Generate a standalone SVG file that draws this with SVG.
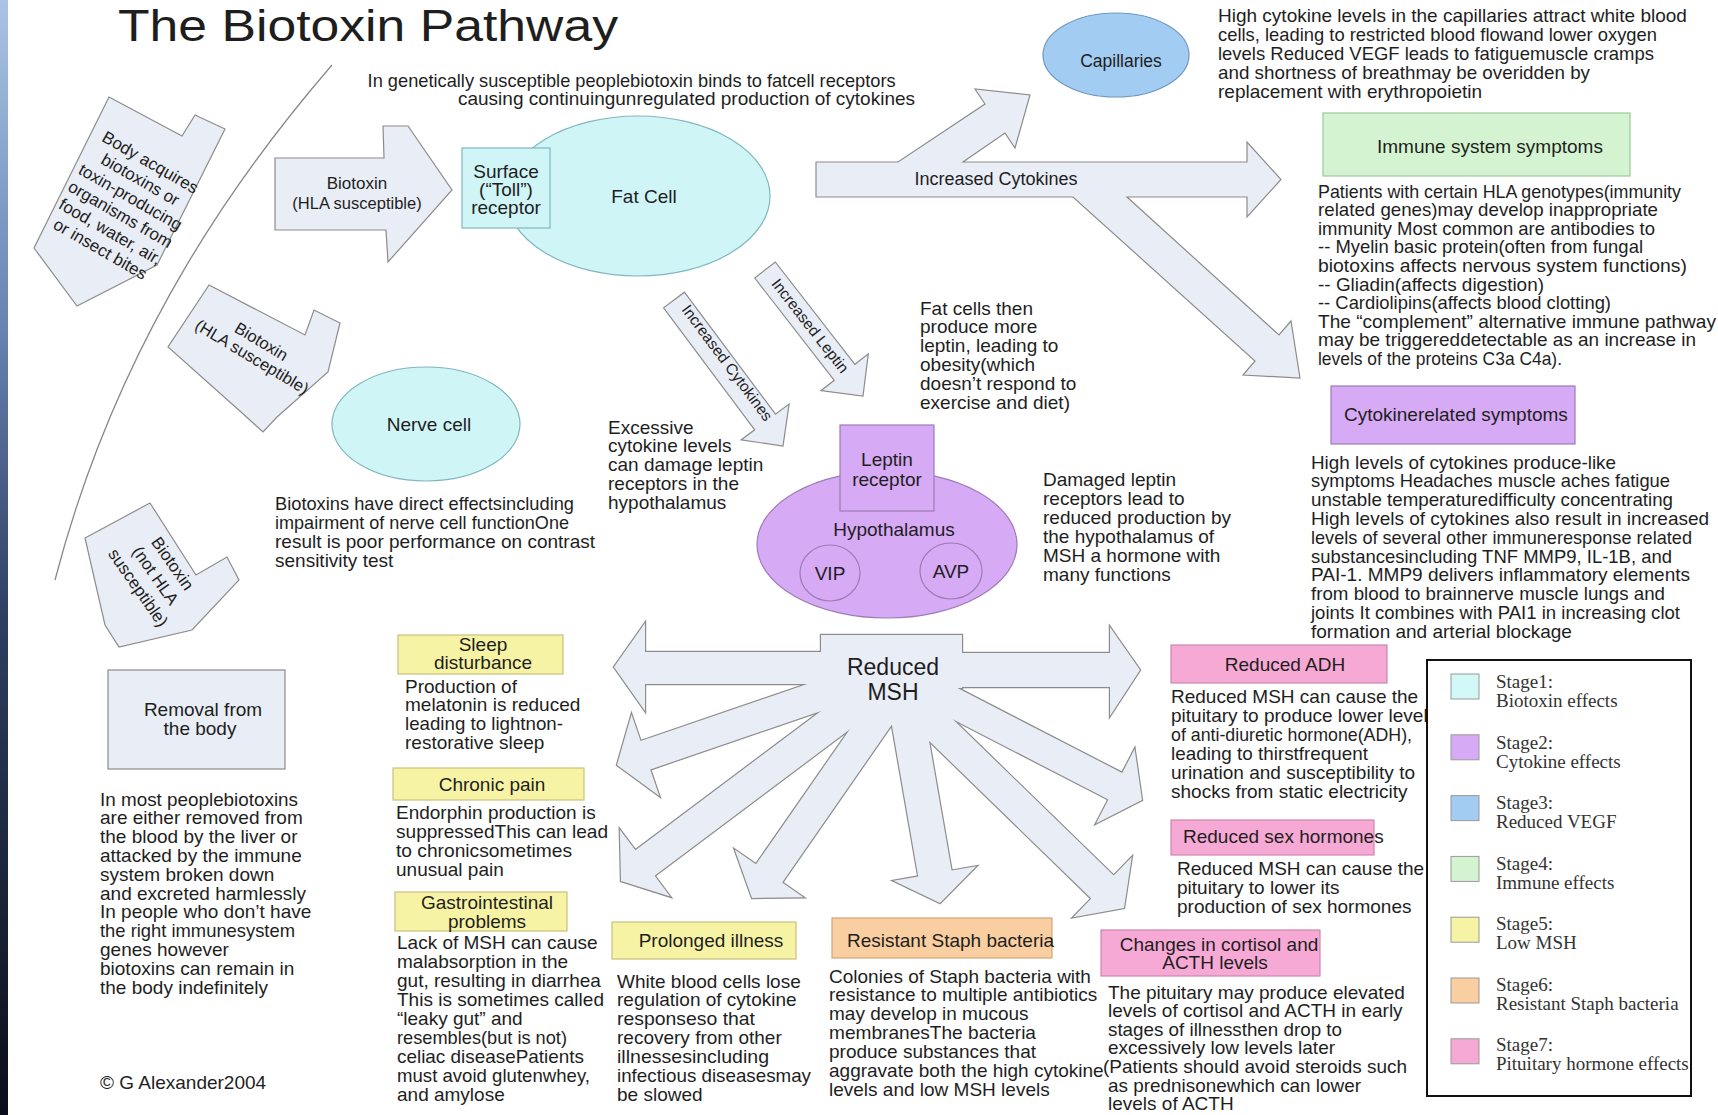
<svg xmlns="http://www.w3.org/2000/svg" xmlns:xlink="http://www.w3.org/1999/xlink" width="1718" height="1115" viewBox="0 0 1718 1115">
<defs>
<linearGradient id="strip" x1="0" y1="0" x2="0" y2="1">
<stop offset="0" stop-color="#aac3e5"/>
<stop offset="0.3" stop-color="#6781b0"/>
<stop offset="0.55" stop-color="#2e3f62"/>
<stop offset="1" stop-color="#0b0e18"/>
</linearGradient>
<g id="msh">
<rect x="821" y="635" width="141" height="53"/>
<polygon points="860,652 645,652 645,623 614,667 645,711 645,684 860,684"/>
<polygon points="920,653 1110,653 1110,627 1140,670 1110,716 1110,687 920,687"/>
<polygon points="875.2,660.8 640.6,741.1 631.5,714.6 617,765 659.3,796 650.2,769.5 884.8,689.2"/>
<polygon points="875.4,670.2 635.4,850.2 619.8,829.4 621,881 670.2,896.6 654.6,875.8 894.6,695.8"/>
<polygon points="886.9,675.9 756,864.3 734.7,849.5 752,898 803.5,897.3 782.2,882.5 913.1,694.1"/>
<polygon points="884.8,684.3 918.2,876.4 893.5,880.7 940,903 976.3,866.3 951.6,870.6 918.2,678.5"/>
<polygon points="889.1,702 1091.3,898.6 1073.2,917.2 1124,908 1131.8,857 1113.7,875.6 911.5,679"/>
<polygon points="883.1,683.3 1108.4,799.5 1096,823.5 1142,800 1134.6,748.9 1122.2,772.9 896.9,656.7"/>
</g>
</defs>
<style>
.t{font-family:"Liberation Sans",Arial,sans-serif;font-size:19px;fill:#1e1e1e}
.c{text-anchor:middle}
.arr{fill:#e9edf5;stroke:#8c8c8c;stroke-width:1.2}
.cyan{fill:#cff5f7;stroke:#80b6be;stroke-width:1.2}
.blue{fill:#a3ccf2;stroke:#6f98c2;stroke-width:1.2}
.purple{fill:#d7aaf5;stroke:#9c7cb6;stroke-width:1.2}
.green{fill:#d4f4d1;stroke:#9cc999;stroke-width:1.2}
.yellow{fill:#f7f3a4;stroke:#c9c27c;stroke-width:1.2}
.peach{fill:#f9cea0;stroke:#d4a676;stroke-width:1.2}
.pink{fill:#f6a9d4;stroke:#cc87ae;stroke-width:1.2}
.leg{font-family:"Liberation Serif","Times New Roman",serif;font-size:19px;fill:#333}
.sw{stroke:#999;stroke-width:1}
</style>
<rect x="0" y="0" width="1718" height="1115" fill="#ffffff"/>
<rect x="0" y="0" width="8" height="1115" fill="url(#strip)"/>
<path d="M332,65 C250,160 120,330 55,580" fill="none" stroke="#888" stroke-width="1.3"/>
<text class="t" x="118" y="41" style="font-size:44px" textLength="500" lengthAdjust="spacingAndGlyphs">The Biotoxin Pathway</text>

<g id="connectors">
<g id="arrow-body">
<polygon class="arr" points="109,97 182,136 195,115 225,129 157,265 77,306 34,248"/>
<text class="t c" style="font-size:17px" transform="translate(150,163) rotate(30)"><tspan x="0" y="5">Body acquires</tspan><tspan x="0" y="25">biotoxins or</tspan><tspan x="0" y="45">toxin-producing</tspan><tspan x="0" y="65">organisms from</tspan><tspan x="0" y="85">food, water, air,</tspan><tspan x="0" y="105">or insect bites</tspan></text>
</g>
<g id="arrow-biotoxin-hla">
<polygon class="arr" points="275,158 384,158 383,126 408,126 452,190 388,262 386,230 275,230"/>
<text class="t c" style="font-size:17px" x="357" y="189">Biotoxin</text>
<text class="t c" style="font-size:16.5px" x="357" y="209">(HLA susceptible)</text>
</g>
<g id="arrow-biotoxin-hla-2">
<polygon class="arr" points="209,285 305,335 314,310 340,323 328,372 277,417 263,432 241,412 168,347"/>
<text class="t c" style="font-size:16.5px" transform="translate(261,342) rotate(31)"><tspan x="0" y="5">Biotoxin</tspan><tspan x="0" y="23">(HLA susceptible)</tspan></text>
</g>
<g id="arrow-biotoxin-not-hla">
<polygon class="arr" points="150,503 196,575 227,557 239,580 192,630 119,647 105,625 85,538"/>
<text class="t c" style="font-size:17px" transform="translate(172,564) rotate(55)"><tspan x="0" y="5">Biotoxin</tspan><tspan x="0" y="26">(not HLA</tspan><tspan x="0" y="47">susceptible)</tspan></text>
</g>
<g id="arrow-increased-cytokines-main">
<polygon class="arr" points="816,162 898,162 985,104 975,89 1030,95 1015,148 1005,133 963,162 1247,162 1247,142 1281,179.5 1247,217 1247,197 1127,197 1279,335 1291,321 1300,378 1243,375 1255,361 1073,197 816,197"/>
<text class="t c" style="font-size:18px" x="996" y="185">Increased Cytokines</text>
</g>
<g id="arrow-increased-cytokines-small">
<polygon class="arr" points="663.6,307.8 754.7,429.8 741.1,439.9 783,446 789.1,404.1 775.5,414.2 684.4,292.2"/>
<text class="t c" style="font-size:15.5px" transform="translate(727,363) rotate(53.3)"><tspan x="0" y="5">Increased Cytokines</tspan></text>
</g>
<g id="arrow-increased-leptin">
<polygon class="arr" points="754.7,278 834.3,380.3 820.9,390.7 863,396 868.3,353.9 854.9,364.3 775.3,262"/>
<text class="t c" style="font-size:15.5px" transform="translate(810,326) rotate(52)"><tspan x="0" y="5">Increased Leptin</tspan></text>
</g>
<g id="arrow-reduced-msh">
<use xlink:href="#msh" fill="none" stroke="#8c8c8c" stroke-width="2.4"/>
<use xlink:href="#msh" fill="#e9edf5" stroke="none"/>
<text class="t c" style="font-size:23px" x="893" y="675">Reduced</text>
<text class="t c" style="font-size:23px" x="893" y="700">MSH</text>
</g>
</g>

<g id="subtitle">
<text class="t" x="367.6" y="87" textLength="528" lengthAdjust="spacingAndGlyphs">In genetically susceptible peoplebiotoxin binds to fatcell receptors</text>
<text class="t" x="458" y="105" textLength="457" lengthAdjust="spacingAndGlyphs">causing continuingunregulated production of cytokines</text>
</g>

<g id="fat-cell">
<ellipse class="cyan" cx="638" cy="196" rx="132" ry="80"/>
<text class="t c" x="644" y="203">Fat Cell</text>
</g>
<g id="toll-receptor">
<rect class="cyan" x="462" y="148" width="88" height="80"/>
<text class="t c" x="506" y="178">Surface</text>
<text class="t c" x="506" y="196">(“Toll”)</text>
<text class="t c" x="506" y="214">receptor</text>
</g>

<g id="capillaries">
<ellipse class="blue" cx="1116" cy="55" rx="73" ry="42"/>
<text class="t c" style="font-size:17.5px" x="1121" y="67">Capillaries</text>
</g>
<g id="capillaries-text">
<text class="t" x="1218" y="21.5">High cytokine levels in the capillaries attract white blood</text>
<text class="t" x="1218" y="40.5" textLength="439" lengthAdjust="spacingAndGlyphs">cells, leading to restricted blood flowand lower oxygen</text>
<text class="t" x="1218" y="59.5" textLength="436" lengthAdjust="spacingAndGlyphs">levels Reduced VEGF leads to fatiguemuscle cramps</text>
<text class="t" x="1218" y="78.5" textLength="372" lengthAdjust="spacingAndGlyphs">and shortness of breathmay be overidden by</text>
<text class="t" x="1218" y="97.5">replacement with erythropoietin</text>
</g>

<g id="immune-symptoms">
<rect class="green" x="1323" y="113" width="307" height="63"/>
<text class="t" x="1377" y="153">Immune system symptoms</text>
</g>
<g id="immune-text">
<text class="t" x="1318" y="197.5" textLength="363" lengthAdjust="spacingAndGlyphs">Patients with certain HLA genotypes(immunity</text>
<text class="t" x="1318" y="216.1" textLength="340" lengthAdjust="spacingAndGlyphs">related genes)may develop inappropriate</text>
<text class="t" x="1318" y="234.7" textLength="337" lengthAdjust="spacingAndGlyphs">immunity Most common are antibodies to</text>
<text class="t" x="1318" y="253.3" textLength="325" lengthAdjust="spacingAndGlyphs">-- Myelin basic protein(often from fungal</text>
<text class="t" x="1318" y="271.9" textLength="369" lengthAdjust="spacingAndGlyphs">biotoxins affects nervous system functions)</text>
<text class="t" x="1318" y="290.5" textLength="226" lengthAdjust="spacingAndGlyphs">-- Gliadin(affects digestion)</text>
<text class="t" x="1318" y="309.1" textLength="293" lengthAdjust="spacingAndGlyphs">-- Cardiolipins(affects blood clotting)</text>
<text class="t" x="1318" y="327.7" textLength="398" lengthAdjust="spacingAndGlyphs">The “complement” alternative immune pathway</text>
<text class="t" x="1318" y="346.3" textLength="378" lengthAdjust="spacingAndGlyphs">may be triggereddetectable as an increase in</text>
<text class="t" x="1318" y="364.9" textLength="244" lengthAdjust="spacingAndGlyphs">levels of the proteins C3a C4a).</text>
</g>

<g id="cytokine-symptoms">
<rect class="purple" x="1331" y="386" width="244" height="58"/>
<text class="t" x="1344" y="421" fill="#2a1838">Cytokinerelated symptoms</text>
</g>
<g id="cytokine-text">
<text class="t" x="1311" y="468.5" textLength="305" lengthAdjust="spacingAndGlyphs">High levels of cytokines produce-like</text>
<text class="t" x="1311" y="487.3" textLength="359" lengthAdjust="spacingAndGlyphs">symptoms Headaches muscle aches fatigue</text>
<text class="t" x="1311" y="506.1" textLength="362" lengthAdjust="spacingAndGlyphs">unstable temperaturedifficulty concentrating</text>
<text class="t" x="1311" y="524.9">High levels of cytokines also result in increased</text>
<text class="t" x="1311" y="543.7" textLength="381" lengthAdjust="spacingAndGlyphs">levels of several other immuneresponse related</text>
<text class="t" x="1311" y="562.5" textLength="361" lengthAdjust="spacingAndGlyphs">substancesincluding TNF MMP9, IL-1B, and</text>
<text class="t" x="1311" y="581.3" textLength="379" lengthAdjust="spacingAndGlyphs">PAI-1. MMP9 delivers inflammatory elements</text>
<text class="t" x="1311" y="600.1" textLength="354" lengthAdjust="spacingAndGlyphs">from blood to brainnerve muscle lungs and</text>
<text class="t" x="1311" y="618.9" textLength="369" lengthAdjust="spacingAndGlyphs">joints It combines with PAI1 in increasing clot</text>
<text class="t" x="1311" y="637.7">formation and arterial blockage</text>
</g>

<g id="fat-cells-text">
<text class="t" x="920" y="314.5">Fat cells then</text>
<text class="t" x="920" y="333.3">produce more</text>
<text class="t" x="920" y="352.1">leptin, leading to</text>
<text class="t" x="920" y="370.9">obesity(which</text>
<text class="t" x="920" y="389.7">doesn’t respond to</text>
<text class="t" x="920" y="408.5">exercise and diet)</text>
</g>

<g id="nerve-cell">
<ellipse class="cyan" cx="426" cy="424" rx="94" ry="57"/>
<text class="t c" x="429" y="431">Nerve cell</text>
</g>
<g id="nerve-text">
<text class="t" x="275" y="509.5" textLength="299" lengthAdjust="spacingAndGlyphs">Biotoxins have direct effectsincluding</text>
<text class="t" x="275" y="528.7" textLength="294" lengthAdjust="spacingAndGlyphs">impairment of nerve cell functionOne</text>
<text class="t" x="275" y="547.9">result is poor performance on contrast</text>
<text class="t" x="275" y="567.1">sensitivity test</text>
</g>

<g id="excessive-text">
<text class="t" x="608" y="433.5">Excessive</text>
<text class="t" x="608" y="452.3">cytokine levels</text>
<text class="t" x="608" y="471.1">can damage leptin</text>
<text class="t" x="608" y="489.9">receptors in the</text>
<text class="t" x="608" y="508.7">hypothalamus</text>
</g>

<g id="hypothalamus">
<ellipse class="purple" cx="887" cy="544.5" rx="130" ry="73.5"/>
<rect class="purple" x="840" y="425" width="94" height="86"/>
<text class="t c" x="887" y="466">Leptin</text>
<text class="t c" x="887" y="486">receptor</text>
<text class="t c" x="894" y="536">Hypothalamus</text>
<ellipse class="purple" cx="830" cy="573" rx="30" ry="28"/>
<text class="t c" x="830" y="580">VIP</text>
<ellipse class="purple" cx="951" cy="571" rx="31" ry="28"/>
<text class="t c" x="951" y="578">AVP</text>
</g>

<g id="damaged-text">
<text class="t" x="1043" y="485.5">Damaged leptin</text>
<text class="t" x="1043" y="504.5">receptors lead to</text>
<text class="t" x="1043" y="523.5">reduced production by</text>
<text class="t" x="1043" y="542.5">the hypothalamus of</text>
<text class="t" x="1043" y="561.5">MSH a hormone with</text>
<text class="t" x="1043" y="580.5">many functions</text>
</g>

<g id="removal">
<rect class="arr" x="108" y="670" width="177" height="99"/>
<text class="t c" x="203" y="716">Removal from</text>
<text class="t c" x="200" y="735">the body</text>
</g>
<g id="removal-text">
<text class="t" x="100" y="805.5" textLength="198" lengthAdjust="spacingAndGlyphs">In most peoplebiotoxins</text>
<text class="t" x="100" y="824.3">are either removed from</text>
<text class="t" x="100" y="843.1">the blood by the liver or</text>
<text class="t" x="100" y="861.9">attacked by the immune</text>
<text class="t" x="100" y="880.7">system broken down</text>
<text class="t" x="100" y="899.5">and excreted harmlessly</text>
<text class="t" x="100" y="918.3">In people who don’t have</text>
<text class="t" x="100" y="937.1" textLength="195" lengthAdjust="spacingAndGlyphs">the right immunesystem</text>
<text class="t" x="100" y="955.9">genes however</text>
<text class="t" x="100" y="974.7">biotoxins can remain in</text>
<text class="t" x="100" y="993.5">the body indefinitely</text>
<text class="t" x="100" y="1089">© G Alexander2004</text>
</g>

<g id="sleep">
<rect class="yellow" x="398" y="635" width="165" height="39"/>
<text class="t c" x="483" y="651">Sleep</text>
<text class="t c" x="483" y="669">disturbance</text>
</g>
<g id="sleep-text">
<text class="t" x="405" y="692.5">Production of</text>
<text class="t" x="405" y="711.3">melatonin is reduced</text>
<text class="t" x="405" y="730.1" textLength="158" lengthAdjust="spacingAndGlyphs">leading to lightnon-</text>
<text class="t" x="405" y="748.9">restorative sleep</text>
</g>

<g id="chronic-pain">
<rect class="yellow" x="393" y="768" width="191" height="32"/>
<text class="t c" x="492" y="791">Chronic pain</text>
</g>
<g id="chronic-text">
<text class="t" x="396" y="818.5">Endorphin production is</text>
<text class="t" x="396" y="837.7" textLength="212" lengthAdjust="spacingAndGlyphs">suppressedThis can lead</text>
<text class="t" x="396" y="856.9" textLength="176" lengthAdjust="spacingAndGlyphs">to chronicsometimes</text>
<text class="t" x="396" y="876.1">unusual pain</text>
</g>

<g id="gastro">
<rect class="yellow" x="395" y="892" width="172" height="39"/>
<text class="t c" x="487" y="909">Gastrointestinal</text>
<text class="t c" x="487" y="928">problems</text>
</g>
<g id="gastro-text">
<text class="t" x="397" y="948.5">Lack of MSH can cause</text>
<text class="t" x="397" y="967.5">malabsorption in  the</text>
<text class="t" x="397" y="986.5">gut, resulting in diarrhea</text>
<text class="t" x="397" y="1005.5">This is sometimes called</text>
<text class="t" x="397" y="1024.5">“leaky gut” and</text>
<text class="t" x="397" y="1043.5" textLength="170" lengthAdjust="spacingAndGlyphs">resembles(but is not)</text>
<text class="t" x="397" y="1062.5" textLength="187" lengthAdjust="spacingAndGlyphs">celiac diseasePatients</text>
<text class="t" x="397" y="1081.5" textLength="193" lengthAdjust="spacingAndGlyphs">must avoid glutenwhey,</text>
<text class="t" x="397" y="1100.5">and amylose</text>
</g>

<g id="prolonged">
<rect class="yellow" x="612" y="922" width="184" height="37"/>
<text class="t c" x="711" y="947">Prolonged illness</text>
</g>
<g id="prolonged-text">
<text class="t" x="617" y="987.5">White blood cells lose</text>
<text class="t" x="617" y="1006.4">regulation of cytokine</text>
<text class="t" x="617" y="1025.3" textLength="138" lengthAdjust="spacingAndGlyphs">responseso that</text>
<text class="t" x="617" y="1044.2">recovery from other</text>
<text class="t" x="617" y="1063.1" textLength="152" lengthAdjust="spacingAndGlyphs">illnessesincluding</text>
<text class="t" x="617" y="1082" textLength="194" lengthAdjust="spacingAndGlyphs">infectious diseasesmay</text>
<text class="t" x="617" y="1100.9">be slowed</text>
</g>

<g id="staph">
<rect class="peach" x="832" y="918" width="220" height="40"/>
<text class="t" x="847" y="947">Resistant Staph bacteria</text>
</g>
<g id="staph-text">
<text class="t" x="829" y="982.5">Colonies of Staph bacteria with</text>
<text class="t" x="829" y="1001.4">resistance to multiple antibiotics</text>
<text class="t" x="829" y="1020.3">may develop in mucous</text>
<text class="t" x="829" y="1039.2" textLength="207" lengthAdjust="spacingAndGlyphs">membranesThe bacteria</text>
<text class="t" x="829" y="1058.1">produce substances that</text>
<text class="t" x="829" y="1077">aggravate both the high cytokine</text>
<text class="t" x="829" y="1095.9">levels and low MSH levels</text>
</g>

<g id="cortisol">
<rect class="pink" x="1101" y="930" width="219" height="46"/>
<text class="t c" x="1219" y="951">Changes in cortisol and</text>
<text class="t c" x="1215" y="969">ACTH levels</text>
</g>
<g id="cortisol-text">
<text class="t" x="1108" y="998.5">The pituitary may produce elevated</text>
<text class="t" x="1108" y="1017.1">levels of cortisol and ACTH in early</text>
<text class="t" x="1108" y="1035.7" textLength="234" lengthAdjust="spacingAndGlyphs">stages of illnessthen drop to</text>
<text class="t" x="1108" y="1054.3">excessively low levels later</text>
<text class="t" x="1103" y="1072.9">(Patients should avoid steroids such</text>
<text class="t" x="1108" y="1091.5" textLength="253" lengthAdjust="spacingAndGlyphs">as prednisonewhich can lower</text>
<text class="t" x="1108" y="1110">levels of ACTH</text>
</g>

<g id="adh">
<rect class="pink" x="1171" y="645" width="216" height="38"/>
<text class="t c" x="1285" y="671">Reduced ADH</text>
</g>
<g id="adh-text">
<text class="t" x="1171" y="702.5">Reduced MSH can cause the</text>
<text class="t" x="1171" y="721.5">pituitary to produce lower levels</text>
<text class="t" x="1171" y="740.5" textLength="241" lengthAdjust="spacingAndGlyphs">of anti-diuretic hormone(ADH),</text>
<text class="t" x="1171" y="759.5" textLength="197" lengthAdjust="spacingAndGlyphs">leading to thirstfrequent</text>
<text class="t" x="1171" y="778.5">urination and susceptibility to</text>
<text class="t" x="1171" y="797.5">shocks from static electricity</text>
</g>

<g id="sex-hormones">
<rect class="pink" x="1171" y="820" width="203" height="35"/>
<text class="t" x="1183" y="843">Reduced sex hormones</text>
</g>
<g id="sex-text">
<text class="t" x="1177" y="874.5">Reduced MSH can cause the</text>
<text class="t" x="1177" y="893.5">pituitary to lower its</text>
<text class="t" x="1177" y="912.5">production of sex hormones</text>
</g>

<g id="legend">
<rect x="1427" y="660" width="264" height="436" fill="#ffffff" stroke="#111" stroke-width="2"/>
<rect class="sw" x="1451" y="674" width="28" height="25" fill="#d3f8f8"/>
<text class="leg" x="1496" y="688">Stage1:</text>
<text class="leg" x="1496" y="707">Biotoxin effects</text>
<rect class="sw" x="1451" y="734.8" width="28" height="25" fill="#d7aaf5"/>
<text class="leg" x="1496" y="748.5">Stage2:</text>
<text class="leg" x="1496" y="767.5">Cytokine  effects</text>
<rect class="sw" x="1451" y="795.6" width="28" height="25" fill="#a3ccf2"/>
<text class="leg" x="1496" y="809">Stage3:</text>
<text class="leg" x="1496" y="828">Reduced VEGF</text>
<rect class="sw" x="1451" y="856.4" width="28" height="25" fill="#d4f4d1"/>
<text class="leg" x="1496" y="869.5">Stage4:</text>
<text class="leg" x="1496" y="888.5">Immune effects</text>
<rect class="sw" x="1451" y="917.2" width="28" height="25" fill="#f7f3a4"/>
<text class="leg" x="1496" y="930">Stage5:</text>
<text class="leg" x="1496" y="949">Low MSH</text>
<rect class="sw" x="1451" y="978" width="28" height="25" fill="#f9cea0"/>
<text class="leg" x="1496" y="990.5">Stage6:</text>
<text class="leg" x="1496" y="1009.5">Resistant Staph bacteria</text>
<rect class="sw" x="1451" y="1038.8" width="28" height="25" fill="#f6a9d4"/>
<text class="leg" x="1496" y="1051">Stage7:</text>
<text class="leg" x="1496" y="1070">Pituitary hormone effects</text>
</g>
</svg>
